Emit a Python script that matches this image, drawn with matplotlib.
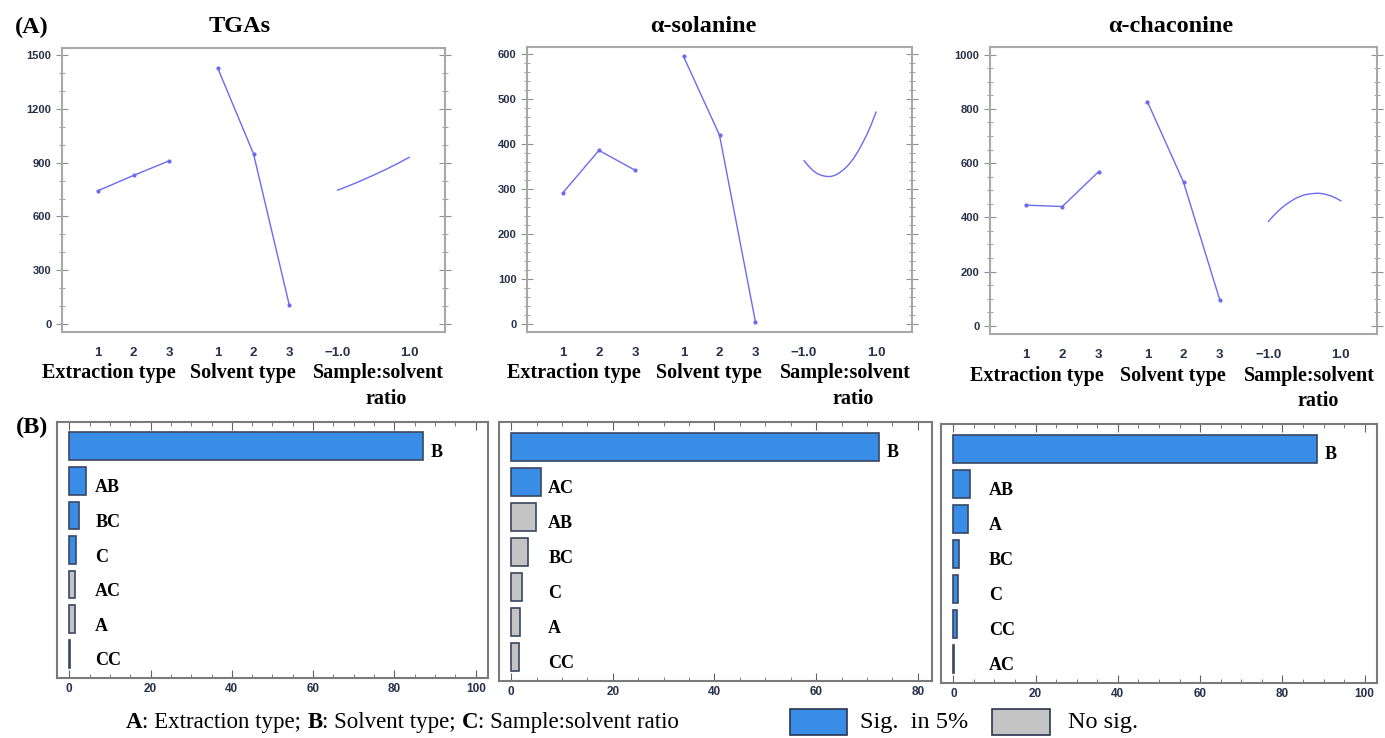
import numpy as np
import matplotlib
matplotlib.use("Agg")
import matplotlib.pyplot as plt
from matplotlib.patches import Rectangle
from matplotlib.ticker import MultipleLocator

# ---- data ----
levels = [1, 2, 3]
ratio_levels = [-1, -0.875, -0.75, -0.625, -0.5, -0.375, -0.25, -0.125, 0,
                0.125, 0.25, 0.375, 0.5, 0.625, 0.75, 0.875, 1]

titles = ["TGAs", "α-solanine", "α-chaconine"]

tgas_ext = [743, 829, 911]
tgas_solv = [1429, 950, 104]
tgas_ratio = [747, 756, 766, 776, 786, 797, 808, 819, 830,
              842, 853, 865, 878, 890, 903, 917, 930]

sol_ext = [292, 386, 342]
sol_solv = [595, 420, 4]
sol_ratio = [363, 351, 341, 334, 330, 328, 328, 331, 337,
             345, 355, 368, 384, 402, 422, 445, 471]

cha_ext = [445, 440, 568]
cha_solv = [827, 530, 97]
cha_ratio = [385, 404, 421, 436, 449, 460, 470, 477, 483,
             486, 488, 489, 487, 483, 478, 470, 461]

# pareto (standardized effects)
tgas_terms = ["B", "AB", "BC", "C", "AC", "A", "CC"]
tgas_eff = [86.9, 4.2, 2.4, 1.7, 1.5, 1.5, 0.1]
tgas_sig = [1, 1, 1, 1, 0, 0, 0]

sol_terms = ["B", "AC", "AB", "BC", "C", "A", "CC"]
sol_eff = [72.3, 5.9, 4.8, 3.3, 2.2, 1.8, 1.6]
sol_sig = [1, 1, 0, 0, 0, 0, 0]

cha_terms = ["B", "AB", "A", "BC", "C", "CC", "AC"]
cha_eff = [88.3, 4.1, 3.6, 1.4, 1.1, 0.9, 0.05]
cha_sig = [1, 1, 1, 1, 1, 1, 0]

key_parts = [("A", "bold"), (": Extraction type; ", "normal"),
             ("B", "bold"), (": Solvent type; ", "normal"),
             ("C", "bold"), (": Sample:solvent ratio", "normal")]

W, H = 1385, 738
fig = plt.figure(figsize=(W / 100, H / 100), dpi=100)

def box(l, t, r, b):
    return [l / W, 1 - b / H, (r - l) / W, (b - t) / H]

line_c = "#6b6bf2"
navy = "#26304a"
spine_c = "#a8a8a8"
blue = "#3a8de6"
grey = "#c4c4c4"
serif = "Liberation Serif"
sans = "Liberation Sans"

# ---- (A) main effects plots ----
top_boxes = [(62, 48, 445, 332), (527, 47, 912, 332), (990, 47, 1377, 334)]
ylims = [(-46, 1541), (-18, 616), (-30, 1028)]
majors = [300, 100, 200]
minors = [100, 20, 50]
series = [(tgas_ext, tgas_solv, tgas_ratio),
          (sol_ext, sol_solv, sol_ratio),
          (cha_ext, cha_solv, cha_ratio)]
title_x = [240, 703, 1171]

solv_off = 3.35
ratio_off = 8.7

for k in range(3):
    ax = fig.add_axes(box(*top_boxes[k]))
    ext, solv, rat = series[k]
    ax.plot(levels, ext, color=line_c, lw=1, marker="o", ms=2)
    ax.plot(np.array(levels) + solv_off, solv, color=line_c, lw=1, marker="o", ms=2)
    ax.plot(np.array(ratio_levels) + ratio_off, rat, color=line_c, lw=1)
    ax.set_xlim(0, 10.7)
    ax.set_ylim(*ylims[k])
    ax.yaxis.set_major_locator(MultipleLocator(majors[k]))
    ax.yaxis.set_minor_locator(MultipleLocator(minors[k]))
    ax.tick_params(axis="y", which="both", left=True, right=True, direction="inout",
                   colors="#909090", labelcolor=navy, labelsize=8)
    ax.tick_params(axis="y", which="major", length=8)
    ax.tick_params(axis="y", which="minor", length=4)
    for lab in ax.get_yticklabels():
        lab.set_fontweight("bold")
        lab.set_family(sans)
    xt = list(levels) + list(np.array(levels) + solv_off) + [ratio_off - 1, ratio_off + 1]
    ax.set_xticks(xt)
    ax.set_xticklabels(["1", "2", "3", "1", "2", "3", "\u22121.0", "1.0"],
                       fontweight="bold", family=sans, fontsize=9.5, color=navy)
    ax.tick_params(axis="x", length=0, pad=11)
    for s in ax.spines.values():
        s.set_color(spine_c)
        s.set_linewidth(1.5)
    tr = ax.get_xaxis_transform()
    ax.text(1.3, -0.145, "Extraction type", transform=tr, ha="center", va="center",
            family=serif, fontweight="bold", fontsize=14.5)
    ax.text(5.06, -0.145, "Solvent type", transform=tr, ha="center", va="center",
            family=serif, fontweight="bold", fontsize=14.5)
    ax.text(8.84, -0.145, "Sample:solvent", transform=tr, ha="center", va="center",
            family=serif, fontweight="bold", fontsize=14.5)
    ax.text(9.06, -0.235, "ratio", transform=tr, ha="center", va="center",
            family=serif, fontweight="bold", fontsize=14.5)
    fig.text(title_x[k] / W, 1 - 26 / H, titles[k], ha="center", va="center",
             family=serif, fontweight="bold", fontsize=17.5)

fig.text(32 / W, 1 - 27 / H, "(A)", ha="center", va="center",
         family=serif, fontweight="bold", fontsize=17.5)
fig.text(32 / W, 1 - 427 / H, "(B)", ha="center", va="center",
         family=serif, fontweight="bold", fontsize=17.5)

# ---- (B) pareto charts ----
bot_boxes = [(57, 422, 488, 678), (499, 422, 932, 681), (941, 424, 1377, 683)]
xlims = [(-3, 103), (-2.4, 82.8), (-3, 103)]
pareto = [(tgas_terms, tgas_eff, tgas_sig),
          (sol_terms, sol_eff, sol_sig),
          (cha_terms, cha_eff, cha_sig)]
lab_x = [6.4, 7.3, 8.6]

for k in range(3):
    ax = fig.add_axes(box(*bot_boxes[k]))
    terms, eff, sig = pareto[k]
    ypos = np.arange(len(terms))[::-1]
    cols = [blue if s else grey for s in sig]
    ax.barh(ypos, eff, height=0.8, color=cols, edgecolor="#3a4660", linewidth=1.2)
    for i in range(len(terms)):
        if i == 0:
            ax.annotate(terms[i], (eff[i], ypos[i]), xytext=(8, -6),
                        textcoords="offset pixels", ha="left", va="center",
                        family=serif, fontweight="bold", fontsize=13)
        else:
            ax.annotate(terms[i], (lab_x[k], ypos[i]), xytext=(0, -7),
                        textcoords="offset pixels", ha="left", va="center",
                        family=serif, fontweight="bold", fontsize=13)
    ax.set_xlim(*xlims[k])
    ax.set_ylim(-0.7, 6.7)
    ax.set_yticks([])
    ax.xaxis.set_major_locator(MultipleLocator(20))
    ax.xaxis.set_minor_locator(MultipleLocator(5))
    ax.tick_params(axis="x", which="both", top=True, bottom=True, direction="in",
                   colors="#606060", labelcolor=navy, labelsize=8.5)
    ax.tick_params(axis="x", which="major", length=6)
    ax.tick_params(axis="x", which="minor", length=3)
    for lab in ax.get_xticklabels():
        lab.set_fontweight("bold")
        lab.set_family(sans)
    for s in ax.spines.values():
        s.set_color("#7a7a7a")
        s.set_linewidth(1.5)

# ---- key ----
kax = fig.add_axes([0, 0, 1, 1])
kax.set_axis_off()
kax.set_xlim(0, W)
kax.set_ylim(H, 0)
prev = kax.text(126, 728, key_parts[0][0], ha="left", va="baseline",
                family=serif, fontweight=key_parts[0][1], fontsize=16.5)
for txt, wt in key_parts[1:]:
    prev = kax.annotate(txt, xy=(1, 0), xycoords=prev, ha="left", va="bottom",
                        family=serif, fontweight=wt, fontsize=16.5)
kax.add_patch(Rectangle((790, 709), 57, 26, facecolor=blue,
                        edgecolor="#2a3550", lw=1.2))
kax.text(860, 728, "Sig.  in 5%", ha="left", va="baseline",
         family=serif, fontsize=17.5)
kax.add_patch(Rectangle((992, 709), 58, 26, facecolor=grey,
                        edgecolor="#2a3550", lw=1.2))
kax.text(1068, 728, "No sig.", ha="left", va="baseline",
         family=serif, fontsize=17.5)

fig.savefig("out.png", dpi=100)
